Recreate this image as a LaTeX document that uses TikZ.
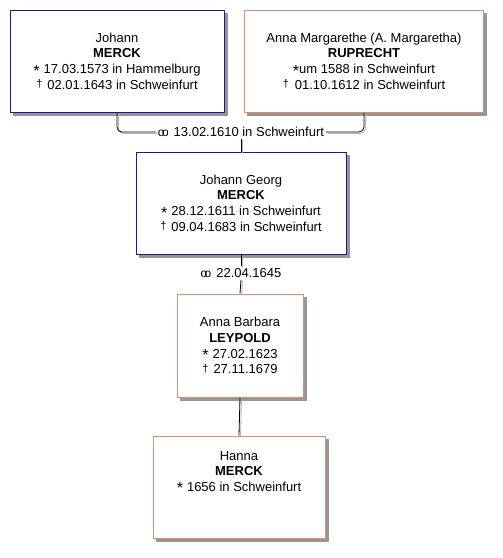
\documentclass[tikz,border=0pt]{standalone}
\usepackage{fontspec}
\setmainfont{Liberation Sans}
\definecolor{maleblue}{RGB}{24,24,150}
\definecolor{femorange}{RGB}{222,142,105}
\definecolor{shadowgray}{RGB}{150,150,150}
\newcommand{\bstar}{{\fontsize{16}{16}\selectfont\raisebox{-2.5pt}{*}}}
\newcommand{\bdag}{{\fontsize{11}{11}\selectfont\raisebox{1.5pt}{†}}}
\newcommand{\wed}{{\fontsize{12}{12}\selectfont o\kern-2.6pt o}}
\tikzset{
  person/.style={draw, line width=1pt, fill=white, align=center, inner sep=0pt,
    font=\fontsize{13}{15.7}\selectfont},
  male/.style={person, draw=maleblue},
  female/.style={person, draw=femorange},
  boxshadow/.style={fill=shadowgray, draw=shadowgray, line width=1pt, inner sep=0pt},
  wedlabel/.style={fill=white, inner sep=2pt, font=\fontsize{13}{15}\selectfont},
  link/.style={draw=black, line width=0.8pt},
  linkshade/.style={draw=black!30, line width=0.8pt}
}
\begin{document}
\begin{tikzpicture}[x=1pt,y=-1pt]
\useasboundingbox (0,0) rectangle (503,558);
% shadows
\node[boxshadow, minimum width=214pt, minimum height=102pt] (js) at (120,64) {};
\node[boxshadow, minimum width=239pt, minimum height=102pt] (as) at (367,64) {};
\node[boxshadow, minimum width=210pt, minimum height=102pt] (gs) at (244,206) {};
\node[boxshadow, minimum width=126pt, minimum height=103pt] (bs) at (243,348.5) {};
\node[boxshadow, minimum width=172pt, minimum height=102pt] (hs) at (242,490) {};
% persons
\node[male, minimum width=214pt, minimum height=102pt] (j) at (117,61)
  {Johann\\ \textbf{MERCK}\\ \bstar\hspace{4pt}17.03.1573 in Hammelburg\\ \bdag\hspace{5pt}02.01.1643 in Schweinfurt};
\node[female, minimum width=239pt, minimum height=102pt] (a) at (364,61)
  {Anna Margarethe (A. Margaretha)\\ \textbf{RUPRECHT}\\ \bstar um 1588 in Schweinfurt\\ \bdag\hspace{6pt}01.10.1612 in Schweinfurt};
\node[wedlabel] (m1) at (241,132) {\wed\hspace{5pt}13.02.1610 in Schweinfurt};
\node[male, minimum width=210pt, minimum height=102pt] (g) at (241,203)
  {Johann Georg\\ \textbf{MERCK}\\ \bstar\hspace{4pt}28.12.1611 in Schweinfurt\\ \bdag\hspace{5pt}09.04.1683 in Schweinfurt};
\node[wedlabel] (m2) at (241,273) {\wed\hspace{5pt}22.04.1645};
\node[female, minimum width=126pt, minimum height=103pt] (b) at (240,345.5)
  {Anna Barbara\\ \textbf{LEYPOLD}\\ \bstar\hspace{4pt}27.02.1623\\ \bdag\hspace{5pt}27.11.1679};
\node[female, minimum width=172pt, minimum height=102pt] (h) at (239,487)
  {Hanna\\ \textbf{MERCK}\\ \bstar\hspace{4pt}1656 in Schweinfurt\\[15.7pt]};
% connector shades
\draw[linkshade, rounded corners=5pt] ([shift={(1.5pt,-1.5pt)}]j.south) |- ([shift={(1.5pt,-1.5pt)}]m1.west);
\draw[linkshade, rounded corners=5pt] ([shift={(1.5pt,-1.5pt)}]a.south) |- ([shift={(1.5pt,-1.5pt)}]m1.east);
\draw[linkshade] ([shift={(1.5pt,-1.5pt)}]m1.south) -- ([shift={(1.5pt,-1.5pt)}]g.north);
\draw[linkshade] ([shift={(1.5pt,-1.5pt)}]g.south) -- ([shift={(1.5pt,-1.5pt)}]m2.north);
\draw[linkshade] ([shift={(1.5pt,-1.5pt)}]m2.south) -- ([shift={(1.5pt,-1.5pt)}]b.north);
\draw[linkshade] ([shift={(1.5pt,-1.5pt)}]b.south) -- ([shift={(1.5pt,-1.5pt)}]h.north);
% connectors
\draw[link, rounded corners=5pt] (j.south) |- (m1.west);
\draw[link, rounded corners=5pt] (a.south) |- (m1.east);
\draw[link] (m1.south) -- (g.north);
\draw[link] (g.south) -- (m2.north);
\draw[link] (m2.south) -- (b.north);
\draw[link] (b.south) -- (h.north);
\end{tikzpicture}
\end{document}
